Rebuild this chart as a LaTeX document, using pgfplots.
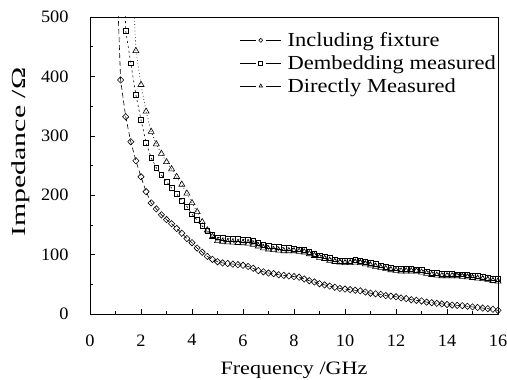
\documentclass[border=0pt]{standalone}
\usepackage{fontspec}
\setmainfont{Liberation Serif}
\newfontfamily\xlabfont[FakeStretch=1.17]{Liberation Serif}
\newfontfamily\ylabfont[FakeStretch=1.5]{Liberation Serif}
\newfontfamily\legfont[FakeStretch=1.13]{Liberation Serif}
\newfontfamily\tickfont[FakeStretch=1.05]{Liberation Serif}
\usepackage{pgfplots}
\pgfplotsset{compat=1.18}
\begin{document}
\begin{tikzpicture}
\begin{axis}[
  name=ax,
  scale only axis,
  width=408bp, height=297bp,
  xmin=0, xmax=16, ymin=0, ymax=500,
  xtick={0,2,...,16}, ytick={0,100,...,500},
  minor x tick num=1, minor y tick num=1,
  tick align=inside,
  xtick pos=bottom, ytick pos=left,
  major tick length=5bp, minor tick length=3bp,
  axis line style={line width=0.8pt},
  tick style={line width=0.6pt, black},
  /pgf/number format/assume math mode=true,
  ticklabel style={font=\tickfont\fontsize{17.5}{20}\selectfont},
  yticklabel style={xshift=-18bp},
  xticklabel style={yshift=-17bp},
  xlabel={Frequency /GHz},
  ylabel={Impedance /Ω},
  xlabel style={font=\xlabfont\fontsize{19}{22}\selectfont, yshift=-9bp},
  ylabel style={font=\ylabfont\fontsize{20}{22}\selectfont, at={(ticklabel cs:0.545)}, yshift=4bp},
  legend style={draw=none, fill=none, at={(rel axis cs:0.367,0.955)}, anchor=north west,
     font=\legfont\fontsize{20}{23}\selectfont, cells={anchor=west}, row sep=3.5pt, inner sep=0pt},
  legend cell align=left,
  legend image code/.code={
    \draw[#1,solid,mark=none] (0cm,0cm) -- (0.55cm,0cm);
    \draw[#1,solid,mark=none] (0.9cm,0cm) -- (1.45cm,0cm);
    \draw[#1,only marks,mark size=2pt] plot coordinates {(0.725cm,0cm)};
  },
]
\addplot[black, line width=0.6pt, dash pattern=on 5pt off 3pt,
  mark=diamond, mark size=3.2pt, mark options={solid, fill=white, line width=0.6pt, xscale=1.3}]
coordinates {
(1.06,560)(1.2,394)(1.4,332)(1.6,290)(1.8,258)(2.0,231)(2.2,206)(2.4,187)(2.6,177)(2.8,167)
(3.0,159)(3.2,152)(3.4,144)(3.6,136)(3.8,127)(4.0,120)(4.2,111)(4.4,104)(4.6,97)(4.8,92)
(5.0,88)(5.2,86)(5.4,85)(5.6,84)(5.8,83)(6.0,82)(6.2,80)(6.4,77)(6.6,73)(6.8,71)
(7.0,69)(7.2,68)(7.4,66)(7.6,65)(7.8,64)(8.0,63)(8.2,62)(8.4,59)(8.6,56)(8.8,54)
(9.0,51)(9.2,49)(9.4,47)(9.6,45)(9.8,43)(10.0,42)(10.2,41)(10.4,40)(10.6,39)(10.8,37)
(11.0,35)(11.2,34)(11.4,33)(11.6,31)(11.8,30)(12.0,29)(12.2,27)(12.4,26)(12.6,24)(12.8,23)
(13.0,22)(13.2,20)(13.4,19)(13.6,18)(13.8,17)(14.0,16)(14.2,15)(14.4,14.5)(14.6,14)(14.8,13)
(15.0,12)(15.2,11)(15.4,10)(15.6,9)(15.8,8)(16.0,6)
};
\addlegendentry{\hspace{4pt}Including fixture}
\addplot[black, line width=0.6pt, dash pattern=on 2pt off 3pt,
  mark=square, mark size=2.4pt, mark options={solid, fill=white, line width=0.6pt}]
coordinates {
(1.36,560)(1.4,477)(1.6,422)(1.8,369)(2.0,327)(2.2,288)(2.4,263)(2.6,246)(2.8,234)
(3.0,223)(3.2,212)(3.4,202)(3.6,191)(3.8,181)(4.0,168)(4.2,158)(4.4,148)(4.6,140)(4.8,133)
(5.0,129)(5.2,128)(5.4,127)(5.6,126.5)(5.8,126)(6.0,125.5)(6.2,125)(6.4,123)(6.6,120)(6.8,117)
(7.0,115)(7.2,114)(7.4,113)(7.6,112)(7.8,111)(8.0,110)(8.2,109)(8.4,108)(8.6,105)(8.8,102)
(9.0,99)(9.2,97)(9.4,94)(9.6,92)(9.8,90)(10.0,90)(10.2,90)(10.4,91)(10.6,90)(10.8,88)
(11.0,86)(11.2,84)(11.4,82)(11.6,80)(11.8,78)(12.0,77)(12.2,76)(12.4,76)(12.6,76)(12.8,75)
(13.0,74)(13.2,72)(13.4,70)(13.6,69)(13.8,68)(14.0,68)(14.2,68)(14.4,67)(14.6,67)(14.8,66)
(15.0,65)(15.2,64)(15.4,63)(15.6,61)(15.8,60)(16.0,59)
};
\addlegendentry{\hspace{4pt}Dembedding measured}
\addplot[black, line width=0.6pt, dash pattern=on 0.8pt off 2.5pt,
  mark=triangle, mark size=3.5pt, mark options={solid, fill=white, line width=0.6pt}]
coordinates {
(1.68,560)(1.8,443)(2.0,386)(2.2,341)(2.4,307)(2.6,286)(2.8,270)
(3.0,256)(3.2,244)(3.4,231)(3.6,218)(3.8,203)(4.0,187)(4.2,172)(4.4,155)(4.6,141)(4.8,130)
(5.0,123)(5.2,122)(5.4,121)(5.6,120.5)(5.8,120)(6.0,119.5)(6.2,119)(6.4,117)(6.6,114)(6.8,111)
(7.0,109)(7.2,108)(7.4,107)(7.6,106)(7.8,106)(8.0,106)(8.2,105)(8.4,104)(8.6,101)(8.8,98)
(9.0,95)(9.2,93)(9.4,90)(9.6,88)(9.8,87)(10.0,86)(10.2,86)(10.4,87)(10.6,86)(10.8,84)
(11.0,82)(11.2,80)(11.4,78)(11.6,76)(11.8,74)(12.0,73)(12.2,72)(12.4,72)(12.6,72)(12.8,72)
(13.0,70)(13.2,68)(13.4,66)(13.6,65)(13.8,64)(14.0,64)(14.2,64)(14.4,64)(14.6,63)(14.8,62)
(15.0,61)(15.2,60)(15.4,59)(15.6,58)(15.8,56)(16.0,55)
};
\addlegendentry{\hspace{4pt}Directly Measured}
\end{axis}
\pgfresetboundingbox
\path ([shift={(-90bp,-66bp)}]ax.south west) rectangle ([shift={(9bp,17bp)}]ax.north east);
\end{tikzpicture}
\end{document}
